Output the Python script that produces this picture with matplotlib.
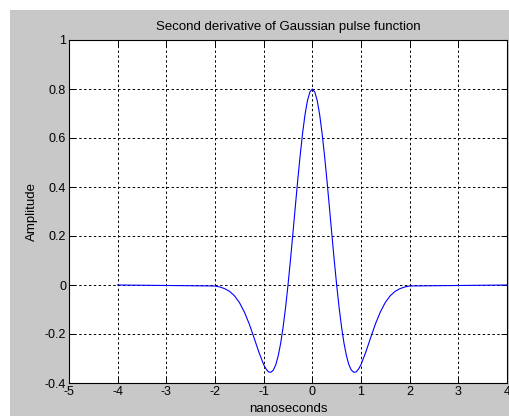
import matplotlib
matplotlib.use("Agg")
import matplotlib.pyplot as plt
from matplotlib.patches import Rectangle

# Values (second derivative of Gaussian pulse)
t_ns = [-4.0, -2.0, -1.9, -1.8, -1.7, -1.6, -1.5, -1.4, -1.3, -1.2, -1.1,
        -1.0, -0.95, -0.9, -0.85, -0.8, -0.75, -0.7, -0.65, -0.6, -0.55, -0.5,
        -0.45, -0.4, -0.35, -0.3, -0.25, -0.2, -0.15, -0.1, -0.05, 0.0,
        0.05, 0.1, 0.15, 0.2, 0.25, 0.3, 0.35, 0.4, 0.45, 0.5,
        0.55, 0.6, 0.65, 0.7, 0.75, 0.8, 0.85, 0.9, 0.95, 1.0,
        1.1, 1.2, 1.3, 1.4, 1.5, 1.6, 1.7, 1.8, 1.9, 2.0, 4.0]
amplitude = [0.0, -0.004, -0.008, -0.015, -0.026, -0.044, -0.071, -0.109, -0.157, -0.214, -0.273,
             -0.325, -0.343, -0.355, -0.356, -0.347, -0.325, -0.288, -0.237, -0.171, -0.092, 0.0,
             0.101, 0.209, 0.319, 0.428, 0.529, 0.620, 0.696, 0.753, 0.788, 0.800,
             0.788, 0.753, 0.696, 0.620, 0.529, 0.428, 0.319, 0.209, 0.101, 0.0,
             -0.092, -0.171, -0.237, -0.288, -0.325, -0.347, -0.356, -0.355, -0.343, -0.325,
             -0.273, -0.214, -0.157, -0.109, -0.071, -0.044, -0.026, -0.015, -0.008, -0.004, 0.0]
x_ticks = [-5, -4, -3, -2, -1, 0, 1, 2, 3, 4]
y_ticks = [-0.4, -0.2, 0, 0.2, 0.4, 0.6, 0.8, 1]
y_tick_labels = ["-0.4", "-0.2", "0", "0.2", "0.4", "0.6", "0.8", "1"]

plt.rcParams['font.family'] = ['Liberation Sans', 'DejaVu Sans']
W, H = 510, 416
fig = plt.figure(figsize=(W / 100, H / 100), dpi=100, facecolor='white')
fig.patches.append(Rectangle((10 / W, 0), 1 - 10 / W, (H - 10) / H,
                             transform=fig.transFigure, facecolor='#c8c8c8',
                             edgecolor='none', zorder=-10))

ax = fig.add_axes([69 / W, (H - 383) / H, (507 - 69) / W, (383 - 40) / H])
ax.set_facecolor('white')
ax.plot(t_ns, amplitude, color='#0000ff', linewidth=0.8)
ax.set_xlim(-5, 4)
ax.set_ylim(-0.4, 1)
ax.set_xticks(x_ticks)
ax.set_xticklabels([str(v) for v in x_ticks])
ax.set_yticks(y_ticks)
ax.set_yticklabels(y_tick_labels)
ax.grid(True, color='black', linestyle=(0, (2.5, 2.5)), linewidth=0.7)
ax.tick_params(direction='in', length=4, width=0.7, labelsize=9, pad=2,
               top=True, right=True, colors='black')
for s in ax.spines.values():
    s.set_linewidth(0.8)
ax.set_title("Second derivative of Gaussian pulse function", fontsize=9.5, pad=7)
ax.set_xlabel("nanoseconds", fontsize=9.5, labelpad=4)
ax.set_ylabel("Amplitude", fontsize=9.5, labelpad=5)

fig.savefig("out.png", dpi=100, facecolor=fig.get_facecolor())
